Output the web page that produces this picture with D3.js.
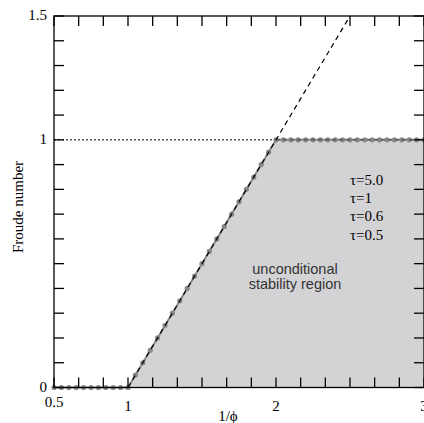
<!DOCTYPE html>
<html>
<head>
<meta charset="utf-8">
<script src="https://cdn.jsdelivr.net/npm/d3@7"></script>
<style>
  body { margin: 0; background: #fff; }
  svg { display: block; }
</style>
</head>
<body>
<svg id="chart" width="424" height="423"></svg>
<script>
// stability boundary, sampled every 0.05 in 1/phi
const invPhi = [0.5, 0.55, 0.6, 0.65, 0.7, 0.75, 0.8, 0.85, 0.9, 0.95,
  1, 1.05, 1.1, 1.15, 1.2, 1.25, 1.3, 1.35, 1.4, 1.45, 1.5, 1.55, 1.6, 1.65, 1.7, 1.75, 1.8, 1.85, 1.9, 1.95,
  2, 2.05, 2.1, 2.15, 2.2, 2.25, 2.3, 2.35, 2.4, 2.45, 2.5, 2.55, 2.6, 2.65, 2.7, 2.75, 2.8, 2.85, 2.9, 2.95, 3];
const froude = [0, 0, 0, 0, 0, 0, 0, 0, 0, 0,
  0, 0.05, 0.1, 0.15, 0.2, 0.25, 0.3, 0.35, 0.4, 0.45, 0.5, 0.55, 0.6, 0.65, 0.7, 0.75, 0.8, 0.85, 0.9, 0.95,
  1, 1, 1, 1, 1, 1, 1, 1, 1, 1, 1, 1, 1, 1, 1, 1, 1, 1, 1, 1, 1];
const regionX = [1, 2, 3, 3];
const regionY = [0, 1, 1, 0];
const asymX = [1, 2.5];
const asymY = [0, 1.5];
const refX = [0.5, 2];
const refY = [1, 1];
const tauLabels = ["τ=5.0", "τ=1", "τ=0.6", "τ=0.5"];
const xTickLabels = [0.5, 1, 2, 3];
const yTickLabels = [0, 1, 1.5];

const svg = d3.select("#chart");
const x = d3.scaleLinear().domain([0.5, 3]).range([54, 424]);
const y = d3.scaleLinear().domain([0, 1.5]).range([387.5, 16]);

const line = d3.line().x(d => x(d[0])).y(d => y(d[1]));

// shaded region
svg.append("path")
    .attr("d", line(regionX.map((v, i) => [v, regionY[i]])) + "Z")
    .attr("fill", "#d3d3d5");

// dotted reference at Fr=1
svg.append("path")
    .attr("d", line(refX.map((v, i) => [v, refY[i]])))
    .attr("stroke", "#000")
    .attr("stroke-width", 1)
    .attr("stroke-dasharray", "2,2")
    .attr("fill", "none");

const pts = invPhi.map((v, i) => [v, froude[i]]);

// boundary curves (all tau coincide)
svg.append("path")
    .attr("d", line(pts))
    .attr("stroke", "#888")
    .attr("stroke-width", 2)
    .attr("fill", "none");

svg.selectAll("circle.pt")
    .data(pts)
    .enter()
    .append("circle")
    .attr("class", "pt")
    .attr("cx", d => x(d[0]))
    .attr("cy", d => y(d[1]))
    .attr("r", 2.6)
    .attr("fill", "#888");

svg.append("path")
    .attr("d", line(pts.filter(d => d[0] >= 2)))
    .attr("stroke", "#444")
    .attr("stroke-width", 1)
    .attr("stroke-dasharray", "4,3")
    .attr("fill", "none");

// asymptote Fr = 1/phi - 1
svg.append("path")
    .attr("d", line(asymX.map((v, i) => [v, asymY[i]])))
    .attr("stroke", "#000")
    .attr("stroke-width", 1.2)
    .attr("stroke-dasharray", "5,4")
    .attr("fill", "none");

// frame with inward ticks
const frame = svg.append("g").attr("stroke", "#000").attr("stroke-width", 1.3).attr("fill", "none");
frame.append("rect")
    .attr("x", x(0.5)).attr("y", y(1.5))
    .attr("width", x(3) - x(0.5)).attr("height", y(0) - y(1.5));

const xTicks = d3.range(0, 16).map(i => 0.5 + i / 6);
const yTicks = d3.range(0, 16).map(i => i / 10);
const tl = 10;

xTicks.forEach(t => {
    frame.append("line").attr("x1", x(t)).attr("x2", x(t)).attr("y1", y(0)).attr("y2", y(0) - tl);
    frame.append("line").attr("x1", x(t)).attr("x2", x(t)).attr("y1", y(1.5)).attr("y2", y(1.5) + tl);
});
yTicks.forEach(t => {
    frame.append("line").attr("x1", x(0.5)).attr("x2", x(0.5) + tl).attr("y1", y(t)).attr("y2", y(t));
    frame.append("line").attr("x1", x(3)).attr("x2", x(3) - tl).attr("y1", y(t)).attr("y2", y(t));
});

const serif = "'Liberation Serif', 'DejaVu Serif', serif";
const fs = "15px";

svg.selectAll("text.xl")
    .data(xTickLabels)
    .enter()
    .append("text")
    .attr("x", d => x(d))
    .attr("y", d => d === 0.5 ? 407 : 411)
    .attr("text-anchor", "middle")
    .style("font-family", serif)
    .style("font-size", fs)
    .text(d => d);

svg.selectAll("text.yl")
    .data(yTickLabels)
    .enter()
    .append("text")
    .attr("x", x(0.5) - 7)
    .attr("y", d => y(d) + 4)
    .attr("text-anchor", "end")
    .style("font-family", serif)
    .style("font-size", fs)
    .text(d => d);

svg.append("text")
    .attr("x", 228)
    .attr("y", 421)
    .attr("text-anchor", "middle")
    .style("font-family", serif)
    .style("font-size", fs)
    .text("1/ϕ");

svg.append("text")
    .attr("transform", "translate(23,207) rotate(-90)")
    .attr("text-anchor", "middle")
    .style("font-family", serif)
    .style("font-size", fs)
    .text("Froude number");

svg.selectAll("text.tau")
    .data(tauLabels)
    .enter()
    .append("text")
    .attr("x", 350)
    .attr("y", (d, i) => 185 + i * 18.2)
    .style("font-family", serif)
    .style("font-size", fs)
    .text(d => d);

const sans = "'Liberation Sans', Arial, sans-serif";
svg.append("text")
    .attr("x", 295).attr("y", 274)
    .attr("text-anchor", "middle")
    .attr("fill", "#333")
    .style("font-family", sans)
    .style("font-size", "14.5px")
    .text("unconditional");
svg.append("text")
    .attr("x", 295).attr("y", 289)
    .attr("text-anchor", "middle")
    .attr("fill", "#333")
    .style("font-family", sans)
    .style("font-size", "14.5px")
    .text("stability region");
</script>
</body>
</html>
